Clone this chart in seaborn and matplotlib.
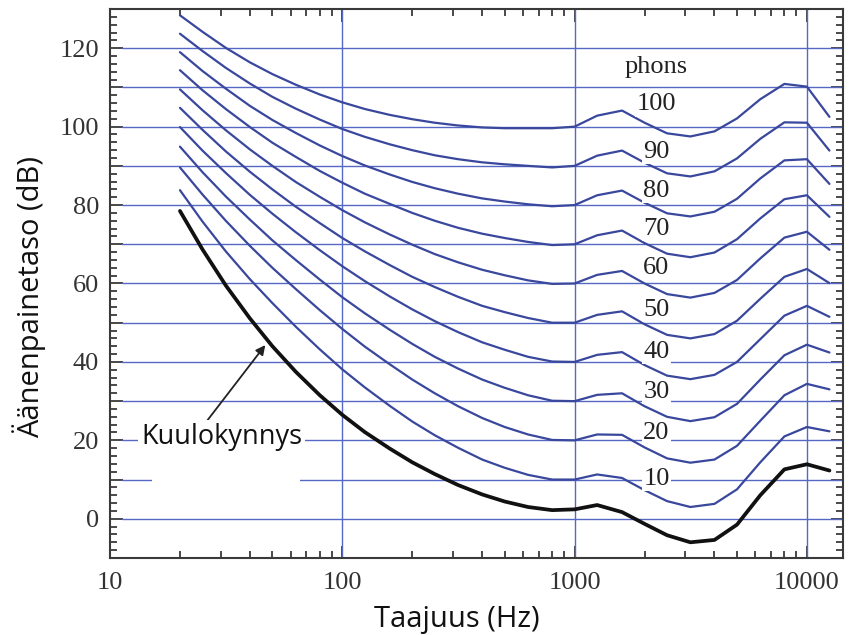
import matplotlib
matplotlib.use("Agg")
import matplotlib.pyplot as plt
from matplotlib.patches import Rectangle
from matplotlib.ticker import FixedLocator, NullFormatter, MultipleLocator
import numpy as np
import pandas as pd
import seaborn as sns

# ---------------- data ----------------
freqs = [20, 25, 31.5, 40, 50, 63, 80, 100, 125, 160, 200, 250, 315, 400, 500,
         630, 800, 1000, 1250, 1600, 2000, 2500, 3150, 4000, 5000, 6300, 8000,
         10000, 12500]

threshold = [78.5, 68.7, 59.5, 51.1, 44.0, 37.5, 31.5, 26.5, 22.1, 17.9, 14.4, 11.4,
             8.6, 6.2, 4.4, 3.0, 2.2, 2.4, 3.5, 1.7, -1.3, -4.2, -6.0, -5.4, -1.5,
             6.0, 12.6, 13.9, 12.3]

phon10 = [83.8, 75.8, 68.2, 61.1, 55.0, 49.0, 43.2, 38.1, 33.5, 28.8, 24.8, 21.3, 18.1,
          15.1, 13.0, 11.2, 10.0, 10.0, 11.3, 10.4, 7.3, 4.5, 3.0, 3.8, 7.5, 14.4,
          21.0, 23.4, 22.3]
phon20 = [89.6, 82.7, 76.0, 69.6, 64.0, 58.6, 53.2, 48.4, 43.9, 39.4, 35.5, 32.0, 28.7,
          25.7, 23.4, 21.5, 20.1, 20.0, 21.5, 21.4, 18.2, 15.4, 14.3, 15.1, 18.6, 25.0,
          31.5, 34.4, 33.0]
phon30 = [94.9, 88.4, 82.2, 76.3, 71.0, 66.0, 61.0, 56.5, 52.4, 48.2, 44.6, 41.3, 38.3,
          35.5, 33.4, 31.5, 30.1, 30.0, 31.6, 32.0, 28.7, 26.0, 24.9, 25.9, 29.3, 35.5,
          41.7, 44.4, 42.4]
phon40 = [99.9, 93.9, 88.2, 82.6, 77.8, 73.1, 68.5, 64.4, 60.6, 56.7, 53.4, 50.4, 47.6,
          45.0, 43.1, 41.3, 40.1, 40.0, 41.8, 42.5, 39.2, 36.5, 35.6, 36.7, 40.0, 45.8,
          51.8, 54.3, 51.5]
phon50 = [104.8, 99.2, 93.7, 88.5, 84.0, 79.6, 75.4, 71.6, 68.2, 64.7, 61.7, 59.1, 56.6,
          54.3, 52.7, 51.2, 50.0, 50.0, 52.0, 52.9, 49.6, 46.9, 46.0, 47.1, 50.5, 56.1,
          61.7, 63.7, 60.1]
phon60 = [109.5, 104.2, 99.1, 94.2, 90.0, 85.9, 82.1, 78.7, 75.6, 72.5, 69.9, 67.5, 65.4,
          63.5, 62.1, 60.8, 59.9, 60.0, 62.2, 63.2, 60.0, 57.3, 56.4, 57.6, 60.9, 66.4,
          71.7, 73.2, 68.6]
phon70 = [114.4, 109.3, 104.5, 99.9, 95.9, 92.3, 88.7, 85.7, 82.9, 80.3, 78.0, 76.0, 74.2,
          72.7, 71.6, 70.6, 69.8, 70.0, 72.3, 73.5, 70.3, 67.6, 66.7, 67.9, 71.3, 76.6,
          81.5, 82.5, 77.0]
phon80 = [119.0, 114.2, 109.7, 105.3, 101.7, 98.4, 95.2, 92.5, 90.1, 87.8, 85.9, 84.3, 82.9,
          81.7, 80.9, 80.2, 79.7, 80.0, 82.5, 83.7, 80.6, 77.9, 77.1, 78.3, 81.6, 86.8,
          91.4, 91.7, 85.4]
phon90 = [123.7, 119.3, 115.0, 111.0, 107.6, 104.6, 101.8, 99.4, 97.4, 95.5, 94.0, 92.7, 91.7,
          90.9, 90.4, 90.0, 89.6, 90.0, 92.6, 93.9, 90.8, 88.1, 87.3, 88.6, 91.9, 96.9,
          101.1, 101.0, 93.9]
phon100 = [128.4, 124.2, 120.1, 116.4, 113.4, 110.7, 108.2, 106.2, 104.5, 103.0, 101.9, 101.0,
           100.3, 99.8, 99.6, 99.6, 99.6, 100.0, 102.8, 104.1, 101.0, 98.3, 97.5, 98.8,
           102.1, 107.0, 110.9, 110.2, 102.5]

phon_levels = [10, 20, 30, 40, 50, 60, 70, 80, 90, 100]
phon_curves = [phon10, phon20, phon30, phon40, phon50, phon60, phon70, phon80, phon90, phon100]

y_ticks = [0, 20, 40, 60, 80, 100, 120]
x_ticks = [10, 100, 1000, 10000]
x_tick_labels = ["10", "100", "1000", "10000"]
grid_levels = [0, 10, 20, 30, 40, 50, 60, 70, 80, 90, 100, 110, 120]
grid_freqs = [100, 1000, 10000]

x_label = "Taajuus (Hz)"
y_label = "Äänenpainetaso (dB)"
threshold_label = "Kuulokynnys"
legend_title = "phons"

# ---------------- style ----------------
sns.set_theme(style="ticks")
plt.rcParams["font.family"] = ["Open Sans", "DejaVu Sans"]

CURVE = "#39479d"
GRID = "#5568c4"
SPINE = "#3a3a3a"
SERIF = "Liberation Serif"

df = pd.DataFrame({
    "freq": np.tile(freqs, len(phon_levels)),
    "spl": np.concatenate(phon_curves),
    "phon": np.repeat(phon_levels, len(freqs)),
})
df_thr = pd.DataFrame({"freq": freqs, "spl": threshold})

fig = plt.figure(figsize=(8.51, 6.35), dpi=100)
fig.patch.set_facecolor("white")
ax = fig.add_axes([0.1293, 0.1213, 0.8613, 0.8645])
ax.set_facecolor("white")
ax.set_xscale("log")

# grid lines
for g in grid_levels:
    ax.axhline(g, xmin=0.016, xmax=1.0, color=GRID, lw=1.0, zorder=1)
for g in grid_freqs:
    ax.axvline(g, color=GRID, lw=1.0, zorder=1)

# white blob behind threshold label
ax.add_patch(Rectangle((15.2, 7.5), 50.7, 6.0, facecolor="white", edgecolor="none", zorder=1.5))

sns.lineplot(data=df, x="freq", y="spl", hue="phon", palette=[CURVE] * len(phon_levels),
             estimator=None, legend=False, lw=1.6, ax=ax, zorder=3)
sns.lineplot(data=df_thr, x="freq", y="spl", color="#111111", lw=2.7,
             estimator=None, legend=False, ax=ax, zorder=4)

ax.set_xlim(10, 14300)
ax.set_ylim(-10, 130)

# ticks
ax.xaxis.set_major_locator(FixedLocator(x_ticks))
ax.set_xticklabels(x_tick_labels)
ax.xaxis.set_minor_locator(FixedLocator(
    [m * d for d in [10, 100, 1000] for m in range(2, 10)]))
ax.xaxis.set_minor_formatter(NullFormatter())
ax.yaxis.set_major_locator(MultipleLocator(10))
ax.yaxis.set_minor_locator(MultipleLocator(2))
ax.set_yticks(list(range(-10, 131, 10)))
ax.set_yticklabels([str(v) if v in y_ticks else "" for v in range(-10, 131, 10)])

ax.tick_params(which="both", direction="in", top=True, right=True, color=SPINE,
               width=1.3, labelsize=19, labelcolor="#333333", labelfontfamily=SERIF)
ax.tick_params(which="major", length=9)
ax.tick_params(which="minor", length=5)
ax.tick_params(axis="x", pad=10)
ax.tick_params(axis="y", pad=8)

for s in ax.spines.values():
    s.set_color(SPINE)
    s.set_linewidth(1.5)
    s.set_visible(True)

ax.set_xlabel(x_label, fontsize=21, color="#111111")
ax.set_ylabel(y_label, fontsize=21, color="#111111")
ax.xaxis.set_label_coords(0.473, -0.085)
ax.yaxis.set_label_coords(-0.087, 0.475)

# phon labels
label_x = 2250
label_y = [10.2, 21.9, 32.4, 42.5, 53.2, 63.9, 73.9, 83.6, 93.5, 105.7]
for lv, ly in zip(phon_levels, label_y):
    ax.text(label_x, ly, str(lv), fontsize=19, family=SERIF, color="#222222",
            ha="center", va="center", zorder=5,
            bbox=dict(boxstyle="square,pad=0.05", fc="white", ec="none"))
ax.text(label_x, 115.2, legend_title, fontsize=19, family=SERIF, color="#222222",
        ha="center", va="center", zorder=5)

# threshold annotation
ax.annotate(threshold_label, xy=(46.6, 44.3), xytext=(13.6, 20.9),
            fontsize=19.5, color="#111111", ha="left", va="center", zorder=6,
            bbox=dict(boxstyle="square,pad=0.1", fc="white", ec="none"),
            arrowprops=dict(arrowstyle="-|>", color="#222222", lw=1.3,
                            mutation_scale=14, shrinkA=0, shrinkB=0,
                            patchA=None, relpos=(0.4, 1.0)))

fig.savefig("out.png", dpi=100, facecolor="white")
